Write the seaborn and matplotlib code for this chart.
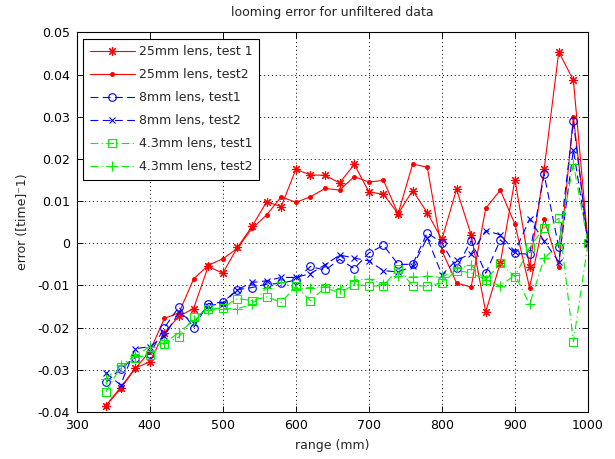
import numpy as np
import pandas as pd
import matplotlib
matplotlib.use("Agg")
import matplotlib.pyplot as plt
import seaborn as sns

# range (mm) of every sample
range_mm = [340, 360, 380, 400, 420, 440, 460, 480, 500, 520, 540, 560,
            580, 600, 620, 640, 660, 680, 700, 720, 740, 760, 780, 800,
            820, 840, 860, 880, 900, 920, 940, 960, 980, 1000]

lens25_test1 = [-0.0385, -0.0342, -0.0296, -0.0281, -0.0212, -0.0173, -0.0155,
                -0.0055, -0.0071, -0.0010, 0.0040, 0.0098, 0.0087, 0.0175,
                0.0162, 0.0161, 0.0143, 0.0187, 0.0122, 0.0116, 0.0070,
                0.0125, 0.0072, 0.0009, 0.0128, 0.0020, -0.0163, -0.0046,
                0.0151, -0.0056, 0.0176, 0.0454, 0.0386, 0.0]
lens25_test2 = [-0.0385, -0.0345, -0.0297, -0.0257, -0.0178, -0.0165, -0.0085,
                -0.0052, -0.0037, -0.0012, 0.0035, 0.0067, 0.0110, 0.0097,
                0.0110, 0.0130, 0.0126, 0.0158, 0.0145, 0.0149, 0.0070,
                0.0188, 0.0180, -0.0018, -0.0094, -0.0104, 0.0083, 0.0126,
                0.0045, -0.0105, 0.0058, -0.0056, 0.0300, 0.0]
lens8_test1 = [-0.0330, -0.0297, -0.0271, -0.0263, -0.0200, -0.0151, -0.0200,
               -0.0143, -0.0140, -0.0110, -0.0105, -0.0097, -0.0095, -0.0087,
               -0.0055, -0.0064, -0.0038, -0.0060, -0.0023, -0.0005, -0.0050,
               -0.0050, 0.0025, 0.0000, -0.0059, 0.0006, -0.0071, 0.0008,
               -0.0024, -0.0026, 0.0163, -0.0010, 0.0289, 0.0]
lens8_test2 = [-0.0307, -0.0336, -0.0250, -0.0245, -0.0220, -0.0164, -0.0188,
               -0.0148, -0.0143, -0.0110, -0.0093, -0.0089, -0.0081, -0.0081,
               -0.0072, -0.0051, -0.0028, -0.0035, -0.0042, -0.0065, -0.0068,
               -0.0055, 0.0013, -0.0075, -0.0040, -0.0025, 0.0030, 0.0020,
               -0.0020, 0.0057, 0.0005, -0.0044, 0.0222, 0.0]
lens43_test1 = [-0.0352, -0.0294, -0.0271, -0.0265, -0.0238, -0.0222, -0.0176,
                -0.0157, -0.0153, -0.0131, -0.0136, -0.0127, -0.0140, -0.0102,
                -0.0136, -0.0105, -0.0118, -0.0098, -0.0101, -0.0101, -0.0060,
                -0.0101, -0.0101, -0.0094, -0.0065, -0.0070, -0.0087, -0.0048,
                -0.0079, -0.0010, 0.0037, 0.0059, -0.0233, 0.0]
lens43_test2 = [-0.0322, -0.0289, -0.0267, -0.0245, -0.0236, -0.0212, -0.0183,
                -0.0159, -0.0155, -0.0155, -0.0145, -0.0105, -0.0092, -0.0108,
                -0.0105, -0.0103, -0.0108, -0.0087, -0.0085, -0.0097, -0.0078,
                -0.0080, -0.0078, -0.0081, -0.0059, -0.0052, -0.0087, -0.0101,
                -0.0075, -0.0145, -0.0036, -0.0002, 0.0188, 0.0]

series_labels = ["25mm lens, test 1", "25mm lens, test2", "8mm lens, test1",
                 "8mm lens, test2", "4.3mm lens, test1", "4.3mm lens, test2"]

x_ticks = [300, 400, 500, 600, 700, 800, 900, 1000]
y_ticks = [-0.04, -0.03, -0.02, -0.01, 0, 0.01, 0.02, 0.03, 0.04, 0.05]
y_tick_labels = ["-0.04", "-0.03", "-0.02", "-0.01", "0", "0.01", "0.02",
                 "0.03", "0.04", "0.05"]

sns.set_style("white")
plt.rcParams["font.family"] = ["DejaVu Sans"]
plt.rcParams["font.size"] = 9

fig = plt.figure(figsize=(6.15, 4.59), dpi=100)
ax = fig.add_axes([0.1247, 0.1024, 0.9561 - 0.1247, 0.9296 - 0.1024])

values = [lens25_test1, lens25_test2, lens8_test1, lens8_test2,
          lens43_test1, lens43_test2]
styles = [
    dict(color="#ff0000", marker=(8, 2, 0), markersize=6.5, dashes=None),
    dict(color="#ff0000", marker=".", markersize=5.5, dashes=None),
    dict(color="#0000ff", marker="o", markersize=5.5, dashes=(7, 4)),
    dict(color="#0000ff", marker="x", markersize=5, dashes=(7, 4)),
    dict(color="#00f000", marker="s", markersize=5.5, dashes=(7, 3, 1, 3)),
    dict(color="#00f000", marker="+", markersize=6.5, dashes=(7, 3, 1, 3)),
]

for vals, label, st in zip(values, series_labels, styles):
    df = pd.DataFrame({"range": range_mm, "error": vals})
    kws = dict(color=st["color"], marker=st["marker"],
               markersize=st["markersize"], markeredgecolor=st["color"],
               markerfacecolor="none", markeredgewidth=0.8, linewidth=0.8)
    if st["marker"] == ".":
        kws["markerfacecolor"] = st["color"]
    sns.lineplot(data=df, x="range", y="error", ax=ax, label=label,
                 errorbar=None, sort=False, **kws)
    line = ax.get_lines()[-1]
    if st["dashes"] is not None:
        line.set_dashes(st["dashes"])

ax.set_xlim(300, 1000)
ax.set_ylim(-0.04, 0.05)
ax.set_xticks(x_ticks)
ax.set_xticklabels([str(t) for t in x_ticks])
ax.set_yticks(y_ticks)
ax.set_yticklabels(y_tick_labels)

ax.grid(True, color="black", linestyle=(0, (1, 3)), linewidth=0.7)
ax.set_axisbelow(True)
for sp in ax.spines.values():
    sp.set_visible(True)
    sp.set_color("black")
    sp.set_linewidth(0.8)
ax.tick_params(direction="in", length=4, width=0.7, top=True, right=True,
               bottom=True, left=True, pad=5, colors="black", labelsize=9)

ax.set_title("looming error for unfiltered data", fontsize=9, pad=12)
ax.set_xlabel("range (mm)", fontsize=9, labelpad=5)
ax.set_ylabel("error ([time]\u207b1)", fontsize=9, labelpad=6)

leg = ax.legend(loc="upper left", fontsize=9, frameon=True, fancybox=False,
                shadow=False, framealpha=1, edgecolor="black",
                handlelength=3.6, handletextpad=0.3, labelspacing=0.8,
                borderpad=0.55, borderaxespad=0.5, numpoints=1)
leg.get_frame().set_linewidth(0.8)

fig.savefig("out.png", dpi=100, facecolor="white")
